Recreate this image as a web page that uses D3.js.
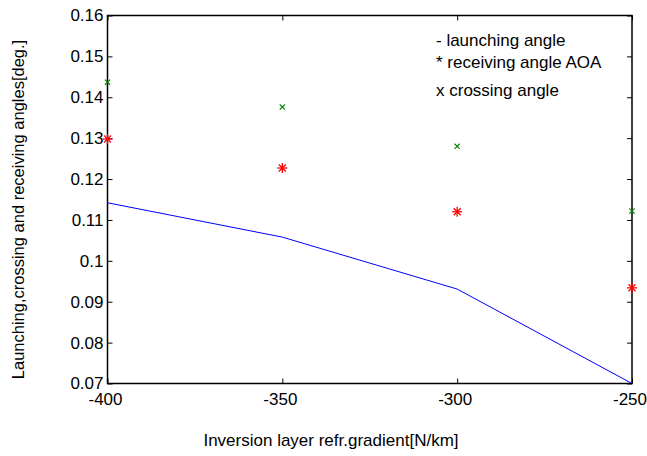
<!DOCTYPE html>
<html>
<head>
<meta charset="utf-8">
<script src="https://cdn.jsdelivr.net/npm/d3@7"></script>
<style>
  body { margin: 0; background: #fff; }
  text { font-family: "Liberation Sans", Arial, sans-serif; fill: #000; }
</style>
</head>
<body>
<svg id="chart" width="647" height="456"></svg>
<script>
// data
const gradients = [-400, -350, -300, -250];
const launching = [0.1142, 0.1058, 0.0931, 0.070];
const receiving = [0.1298, 0.1227, 0.1120, 0.0934];
const crossing  = [0.1437, 0.1376, 0.1280, 0.1122];
const xTicks = [-400, -350, -300, -250];
const yTicks = [0.07, 0.08, 0.09, 0.10, 0.11, 0.12, 0.13, 0.14, 0.15, 0.16];
const notes = ['- launching angle', '* receiving angle AOA', 'x crossing angle'];

const margin = { left: 107.5, right: 15, top: 15.5, bottom: 72.5 };
const W = 647, H = 456;
const FONT = '"Liberation Sans", Arial, sans-serif';
const svg = d3.select('#chart');

const x = d3.scaleLinear().domain([-400, -250]).range([margin.left, W - margin.right]);
const y = d3.scaleLinear().domain([0.07, 0.16]).range([H - margin.bottom, margin.top]);

const fmtY = d => d === 0.1 ? '0.1' : d3.format('.2f')(d);

// axes (ticks inward, MATLAB style box)
const tk = 5;
svg.append('g').attr('class', 'xaxis').attr('transform', `translate(0,${y(0.07)})`)
  .call(d3.axisBottom(x).tickValues(xTicks).tickSize(-tk).tickPadding(9).tickFormat(d => String(d)))
  .call(g => g.select('.domain').remove());
svg.append('g').attr('transform', `translate(0,${y(0.16)})`)
  .call(d3.axisTop(x).tickValues(xTicks).tickSize(-tk).tickFormat(''))
  .call(g => g.select('.domain').remove());
svg.append('g').attr('transform', `translate(${x(-400)},0)`)
  .call(d3.axisLeft(y).tickValues(yTicks).tickSize(-tk).tickPadding(4).tickFormat(fmtY))
  .call(g => g.select('.domain').remove());
svg.append('g').attr('transform', `translate(${x(-250)},0)`)
  .call(d3.axisRight(y).tickValues(yTicks).tickSize(-tk).tickFormat(''))
  .call(g => g.select('.domain').remove());

svg.selectAll('.tick line').attr('stroke', '#000').attr('stroke-width', 1);
svg.selectAll('.tick text').attr('font-size', 17).attr('font-family', FONT);
svg.selectAll('.xaxis .tick text').attr('dx', -2.5);

// box
svg.append('rect')
  .attr('x', x(-400)).attr('y', y(0.16))
  .attr('width', x(-250) - x(-400)).attr('height', y(0.07) - y(0.16))
  .attr('fill', 'none').attr('stroke', '#000').attr('stroke-width', 1.5);

const marks = svg.append('g');

// launching angle line
marks.append('path')
  .datum(gradients.map((g, i) => [g, launching[i]]))
  .attr('fill', 'none').attr('stroke', '#0000ff').attr('stroke-width', 1)
  .attr('d', d3.line().x(d => x(d[0])).y(d => y(d[1])));

// receiving angle asterisks
const star = 5;
const rg = marks.selectAll('g.rcv').data(gradients.map((g, i) => [g, receiving[i]]))
  .join('g').attr('class', 'rcv')
  .attr('transform', d => `translate(${x(d[0])},${y(d[1])})`)
  .attr('stroke', '#ff0000').attr('stroke-width', 1.3);
rg.append('line').attr('x1', -star).attr('x2', star).attr('y1', 0).attr('y2', 0);
rg.append('line').attr('x1', 0).attr('x2', 0).attr('y1', -star).attr('y2', star);
rg.append('line').attr('x1', -3.5).attr('x2', 3.5).attr('y1', -3.5).attr('y2', 3.5);
rg.append('line').attr('x1', -3.5).attr('x2', 3.5).attr('y1', 3.5).attr('y2', -3.5);

// crossing angle x marks
const cx = 2.6;
const cg = marks.selectAll('g.crs').data(gradients.map((g, i) => [g, crossing[i]]))
  .join('g').attr('class', 'crs')
  .attr('transform', d => `translate(${x(d[0])},${y(d[1])})`)
  .attr('stroke', '#008000').attr('stroke-width', 1.1);
cg.append('line').attr('x1', -cx).attr('x2', cx).attr('y1', -cx).attr('y2', cx);
cg.append('line').attr('x1', -cx).attr('x2', cx).attr('y1', cx).attr('y2', -cx);

// annotation text
svg.selectAll('text.note').data(notes).join('text')
  .attr('class', 'note')
  .attr('x', 436)
  .attr('y', (d, i) => [46, 68, 96][i])
  .attr('font-size', 17)
  .text(d => d);

// axis labels
svg.append('text')
  .attr('x', 331).attr('y', 446)
  .attr('text-anchor', 'middle').attr('font-size', 17)
  .text('Inversion layer refr.gradient[N/km]');
svg.append('text')
  .attr('transform', `translate(24,${(y(0.07) + y(0.16)) / 2 + 10}) rotate(-90)`)
  .attr('text-anchor', 'middle').attr('font-size', 16.5)
  .text('Launching,crossing and receiving angles[deg.]');
</script>
</body>
</html>
